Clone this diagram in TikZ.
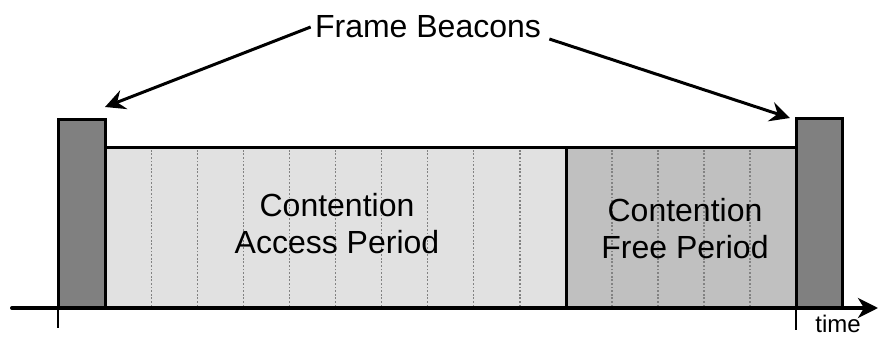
\documentclass[tikz,border=0pt]{standalone}
\usepackage{fontspec}
\setmainfont{Liberation Sans}
\usetikzlibrary{arrows.meta}
\definecolor{beacongray}{RGB}{128,128,128}
\definecolor{capgray}{RGB}{225,225,225}
\definecolor{cfpgray}{RGB}{192,192,192}
\definecolor{dotgray}{RGB}{130,130,130}
\begin{document}
\begin{tikzpicture}[x=0.5pt,y=0.5pt,
  box/.style={draw=black,line width=1.5pt,inner sep=0pt,outer sep=0pt,anchor=south west},
  beacon/.style={box,fill=beacongray,minimum height=94pt},
  period/.style={box,minimum height=80pt},
  slotline/.style={draw=dotgray,line width=0.6pt,dash pattern=on 0.9pt off 0.9pt,shorten <=0.8pt,shorten >=0.8pt},
  lbl/.style={font=\fontsize{16}{18.5}\selectfont,align=center,inner sep=0pt},
  arrowline/.style={line width=1.5pt,-{Stealth[length=10pt,width=10pt,inset=3.5pt]}},
  axis/.style={line width=2pt,line cap=round,-{Stealth[length=10pt,width=10pt,inset=3pt]}},
  tickline/.style={line width=0.75pt}]
\useasboundingbox (0,0) rectangle (879,337);
% boxes
\node[period,fill=capgray,minimum width=230.5pt] (cap) at (105,29) {};
\node[period,fill=cfpgray,minimum width=115pt] (cfp) at (566,29) {};
\node[beacon,minimum width=23.5pt] (lb) at (58,29) {};
\node[beacon,minimum width=23pt,minimum height=94.5pt] (rb) at (796,29) {};
% slot lines
\foreach \i in {1,...,9}{
  \draw[slotline] ([xshift=\i*23.05pt]cap.south west) -- ([xshift=\i*23.05pt]cap.north west);
}
\foreach \i in {1,...,4}{
  \draw[slotline] ([xshift=\i*23pt]cfp.south west) -- ([xshift=\i*23pt]cfp.north west);
}
% texts
\node[lbl] (capt) at (337,113.5) {Contention\\Access Period};
\node[lbl] (cfpt) at (685,108.5) {Contention\\Free Period};
\node[lbl,inner sep=2pt] (fb) at (428,310) {Frame Beacons};
% arrows
\draw[arrowline] (fb.west) -- ([shift={(0,13)}]lb.north east);
\draw[arrowline] ([shift={(4,-12)}]fb.east) -- ([shift={(-6,1)}]rb.north west);
% time axis
\coordinate (ax0) at (12,29);
\coordinate (ax1) at (878,29);
\draw[axis] (ax0) -- (ax1);
\draw[tickline] (lb.south west) -- ++(0,-20);
\draw[tickline] (rb.south west) -- ++(0,-22);
\node[font=\fontsize{12}{14}\selectfont,inner sep=0pt] (tm) at (838,13) {time};
\end{tikzpicture}
\end{document}
